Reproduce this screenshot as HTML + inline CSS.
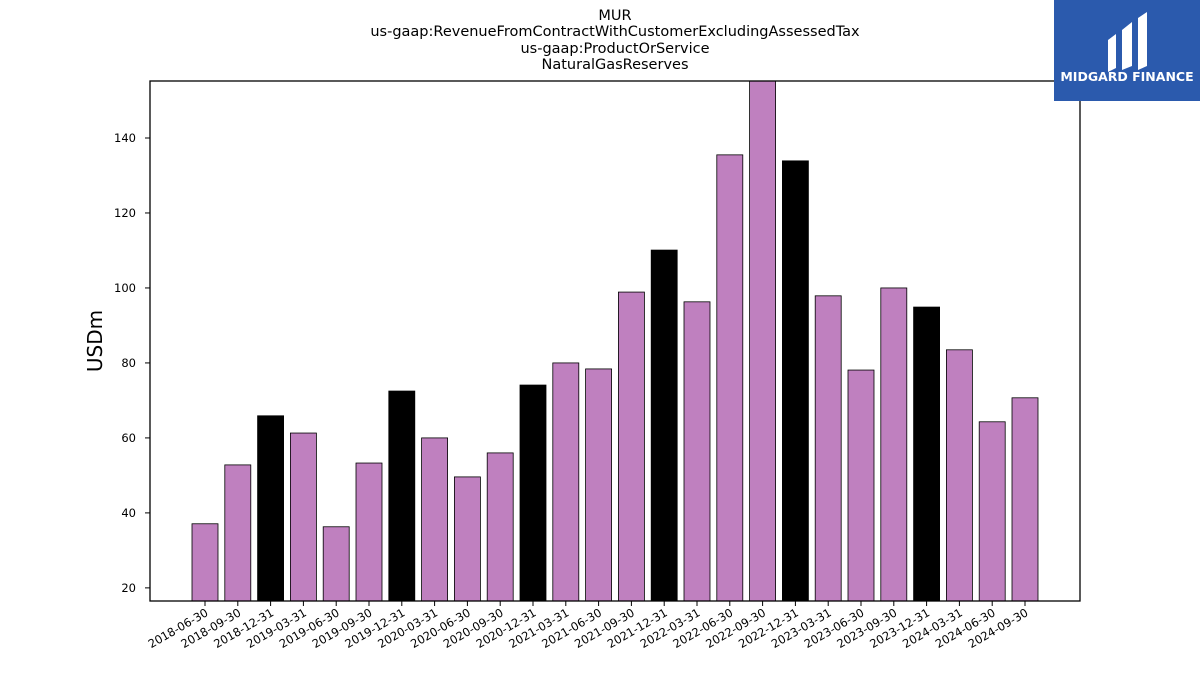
<!DOCTYPE html>
<html><head><meta charset="utf-8"><style>
body{margin:0;background:#fff;font-family:"Liberation Sans","DejaVu Sans",sans-serif;}
svg text{font-family:"DejaVu Sans","Liberation Sans",sans-serif;}
</style></head><body>
<svg id="chart" width="1200" height="675" xmlns="http://www.w3.org/2000/svg">
<g font-size="14.5" text-anchor="middle" fill="#000">
<text x="615" y="20">MUR</text>
<text x="615" y="36">us-gaap:RevenueFromContractWithCustomerExcludingAssessedTax</text>
<text x="615" y="53">us-gaap:ProductOrService</text>
<text x="615" y="69">NaturalGasReserves</text>
</g>
<g id="bars"></g>
<g id="yaxis"></g>
<g id="xaxis"></g>
<rect x="150" y="81" width="930" height="520" fill="none" stroke="#000" stroke-width="1.3"/>
<text x="102" y="341" font-size="20" text-anchor="middle" transform="rotate(-90 102 341)">USDm</text>
<g>
<rect x="1054" y="0" width="146" height="101" fill="#2b5aad"/>
<path d="M1108 40 L1116 34 L1116 68 L1108 72 Z M1122 30 L1132 22 L1132 66 L1122 70 Z M1138 18 L1147 12 L1147 66 L1138 70 Z" fill="#fff"/>
<text x="1127" y="81" font-size="12.5" font-weight="bold" fill="#fff" text-anchor="middle">MIDGARD FINANCE</text>
</g>
</svg>
<script>
const categories=["2018-06-30","2018-09-30","2018-12-31","2019-03-31","2019-06-30","2019-09-30","2019-12-31","2020-03-31","2020-06-30","2020-09-30","2020-12-31","2021-03-31","2021-06-30","2021-09-30","2021-12-31","2022-03-31","2022-06-30","2022-09-30","2022-12-31","2023-03-31","2023-06-30","2023-09-30","2023-12-31","2024-03-31","2024-06-30","2024-09-30"];
const values=[37.1,52.8,65.9,61.3,36.3,53.3,72.5,60,49.6,56,74.1,80,78.4,98.9,110.1,96.3,135.5,157,133.9,97.9,78.1,100,94.9,83.5,64.3,70.7];
const yTicks=[20,40,60,80,100,120,140];
const NS="http://www.w3.org/2000/svg";
const yMin=16.5,yMax=155.2,plotTop=81,plotBot=601;
function yS(v){return plotBot-(v-yMin)/(yMax-yMin)*(plotBot-plotTop);}
function xS(i){return 205+i*32.8;}
const bars=document.getElementById('bars'),ya=document.getElementById('yaxis'),xa=document.getElementById('xaxis');
function mk(t,a,p){const e=document.createElementNS(NS,t);for(const k in a)e.setAttribute(k,a[k]);p.appendChild(e);return e;}
values.forEach((v,i)=>{
 const yt=Math.max(yS(v),plotTop);
 const r=mk('rect',{x:xS(i)-13,y:yt,width:26,height:plotBot-yt,fill:(categories[i].endsWith('12-31')?'#000':'#bf80bf'),stroke:'#000','stroke-width':0.8},bars);
 
 
 const tk=mk('line',{x1:xS(i),x2:xS(i),y1:plotBot,y2:plotBot+5,stroke:'#000'},xa);
 
 
 const t=mk('text',{x:xS(i)+4,y:plotBot+14,'font-size':11.5,'text-anchor':'end',transform:`rotate(-30 ${xS(i)+4} ${plotBot+14})`},xa);
 t.textContent=categories[i];
 
 
});
yTicks.forEach(v=>{
 const l=mk('line',{x1:145,x2:150,y1:yS(v),y2:yS(v),stroke:'#000'},ya);
 
 
 const t=mk('text',{x:136,y:yS(v)+4,'font-size':11.5,'text-anchor':'end'},ya);
 t.textContent=v;
 
 
});
</script>
</body></html>
